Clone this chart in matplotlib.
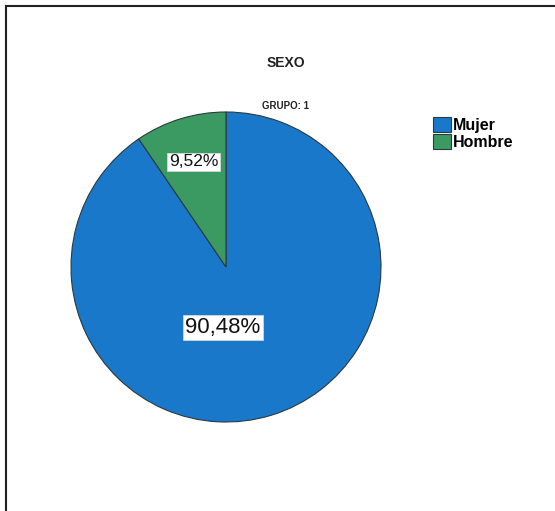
import matplotlib.pyplot as plt
from matplotlib.lines import Line2D

# Datos del gráfico
categorias = ['Mujer', 'Hombre']
porcentajes = [90.48, 9.52]
colores = ['#1a78ca', '#3a9a62']

fig = plt.figure(figsize=(5.55, 5.11), dpi=100)

# marco (solo se ven los bordes superior e izquierdo)
fig.add_artist(Line2D([6 / 555, 6 / 555], [0, 1 - 6 / 511], color='#222222', lw=1.5))
fig.add_artist(Line2D([6 / 555, 1], [1 - 6 / 511, 1 - 6 / 511], color='#222222', lw=1.5))

# eje del pastel: centro (226, 267) px, radio 155 px
cx, cy, r = 226, 267, 155
ax = fig.add_axes([(cx - r) / 555, (511 - cy - r) / 511, 2 * r / 555, 2 * r / 511])

wedges, texts, autotexts = ax.pie(
    porcentajes, colors=colores, startangle=90, counterclock=False,
    autopct=lambda p: f'{p:.2f}%'.replace('.', ','), pctdistance=0.71,
    wedgeprops=dict(edgecolor='#2a3a40', linewidth=0.8),
    textprops=dict(family='Liberation Sans'))
ax.set_xlim(-1, 1)
ax.set_ylim(-1, 1)
ax.set_aspect('equal')

caja = dict(boxstyle='square,pad=0.1', facecolor='white', edgecolor='#dddddd', linewidth=0.5)
autotexts[0].set_position((-0.02, -0.39))
autotexts[0].set_fontsize(16)
autotexts[1].set_fontsize(12.5)
for t in autotexts:
    t.set_bbox(caja)
    t.set_color('#111111')

# títulos
fig.text(286 / 555, 1 - 63 / 511, 'SEXO', ha='center', va='center',
         fontsize=10, fontweight='bold', family='Liberation Sans', color='#222222')
fig.text(286 / 555, 1 - 106 / 511, 'GRUPO: 1', ha='center', va='center',
         fontsize=7, fontweight='bold', family='Liberation Sans', color='#222222')

# leyenda
fig.legend(wedges, categorias, loc='upper left', bbox_to_anchor=(425 / 555, 1 - 109 / 511),
           frameon=False, prop=dict(family='Liberation Sans', weight='bold', size=11.5),
           handlelength=1.1, handleheight=1.1, handletextpad=0.15, labelspacing=0.05,
           borderpad=0)

fig.savefig('out.png', dpi=100)
